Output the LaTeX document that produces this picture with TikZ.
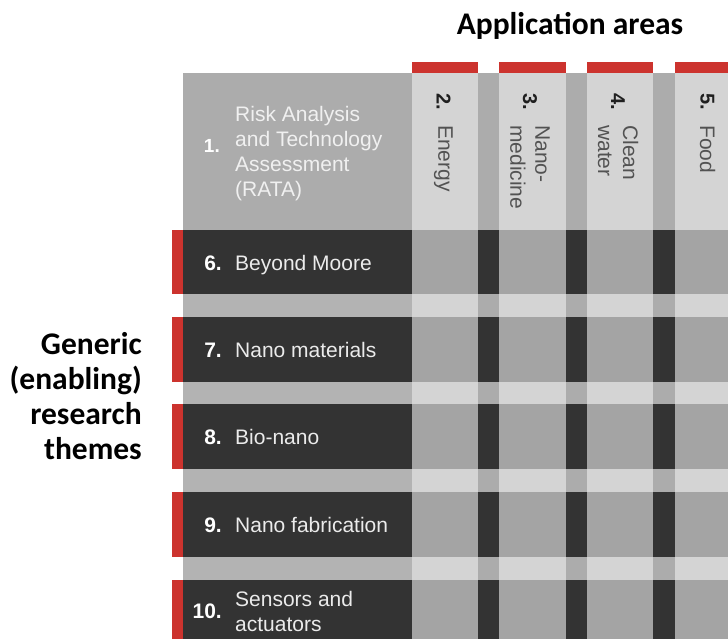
\documentclass[tikz,border=0pt]{standalone}
\usepackage{fontspec}
\setmainfont{Liberation Sans}
\newfontfamily\labelfont{Carlito}
\usetikzlibrary{positioning}

\definecolor{gridgray}{RGB}{172,172,172}
\definecolor{gapgray}{RGB}{179,179,179}
\definecolor{bardark}{RGB}{51,51,51}
\definecolor{barlight}{RGB}{212,212,212}
\definecolor{crossgray}{RGB}{164,164,164}
\definecolor{tabred}{RGB}{204,51,46}

\begin{document}
\begin{tikzpicture}[x=1pt,y=-1pt,
    heading/.style={font=\labelfont\bfseries\fontsize{31.5}{35}\selectfont,inner sep=0pt},
    themenum/.style={font=\bfseries\fontsize{21}{25}\selectfont,text=white,inner sep=0pt},
    themetext/.style={font=\fontsize{21}{25}\selectfont,text=black!8,align=left,inner sep=0pt},
    areanum/.style={font=\bfseries\fontsize{20}{25}\selectfont,text=black!88,inner sep=0pt,rotate=-90,anchor=west},
    areatext/.style={font=\fontsize{21}{25}\selectfont,text=black!68,align=left,inner sep=0pt,rotate=-90,anchor=west}]
       \useasboundingbox (0,0) rectangle (728,639);
       % Draw the matrix background
       \fill[gridgray] (183,73) rectangle (728,639);
       % Draw theme bars with red tabs
       \fill[bardark] (183,230) rectangle (728,294);
       \fill[bardark] (183,317) rectangle (728,382);
       \fill[bardark] (183,404) rectangle (728,469);
       \fill[bardark] (183,492) rectangle (728,557);
       \fill[bardark] (183,580) rectangle (728,639);
       \fill[gapgray] (183,294) rectangle (412,317);
       \fill[gapgray] (183,382) rectangle (412,404);
       \fill[gapgray] (183,469) rectangle (412,492);
       \fill[gapgray] (183,557) rectangle (412,580);
       \fill[tabred] (172,230) rectangle (183,294);
       \fill[tabred] (172,317) rectangle (183,382);
       \fill[tabred] (172,404) rectangle (183,469);
       \fill[tabred] (172,492) rectangle (183,557);
       \fill[tabred] (172,580) rectangle (183,639);
       % Draw area columns with red tabs
       \fill[barlight] (412,73) rectangle (478,639);
       \fill[barlight] (499,73) rectangle (566,639);
       \fill[barlight] (587,73) rectangle (653,639);
       \fill[barlight] (675,73) rectangle (728,639);
       \fill[tabred] (412,62) rectangle (478,73);
       \fill[tabred] (499,62) rectangle (566,73);
       \fill[tabred] (587,62) rectangle (653,73);
       \fill[tabred] (675,62) rectangle (728,73);
       % Crossings of bars and columns
       \foreach \cx/\cw in {412/66,499/67,587/66,675/53}
         \foreach \ry/\rh in {230/64,317/65,404/65,492/65,580/59}
           \fill[crossgray] (\cx,\ry) rectangle ++(\cw,\rh);

       % Headings
       \node[heading] (areas) at (570,26) {Application areas};
       \node[heading,align=right,anchor=east] (generic) at (142,396) {Generic\\(enabling)\\research\\themes};

       % Theme labels
       \node[themenum,font=\bfseries\fontsize{19}{25}\selectfont,anchor=east] (n1) at (220,146) {1.};
       \node[themetext,text=black!6,anchor=west] (t1) at (235,154) {Risk Analysis\\and Technology\\Assessment\\(RATA)};
       \node[themenum,anchor=base east] (n6) at (222,270) {6.};
       \node[themetext,base right=13pt of n6] (t6) {Beyond Moore};
       \node[themenum,anchor=base east] (n7) at (222,357) {7.};
       \node[themetext,base right=13pt of n7] (t7) {Nano materials};
       \node[themenum,anchor=base east] (n8) at (222,444) {8.};
       \node[themetext,base right=13pt of n8] (t8) {Bio-nano};
       \node[themenum,anchor=base east] (n9) at (222,532) {9.};
       \node[themetext,base right=13pt of n9] (t9) {Nano fabrication};
       \node[themenum,anchor=east] (n10) at (222,611) {10.};
       \node[themetext,right=13pt of n10] (t10) {Sensors and\\actuators};

       % Area labels
       \node[areanum] (n2) at (443.5,93) {2.};
       \node[areatext] (t2) at (443.5,125) {Energy};
       \node[areanum] (n3) at (530,93) {3.};
       \node[areatext] (t3) at (530,125) {Nano-\\medicine};
       \node[areanum] (n4) at (618,93) {4.};
       \node[areatext] (t4) at (618,125) {Clean\\water};
       \node[areanum] (n5) at (707.5,93) {5.};
       \node[areatext] (t5) at (707.5,125) {Food};
\end{tikzpicture}
\end{document}
